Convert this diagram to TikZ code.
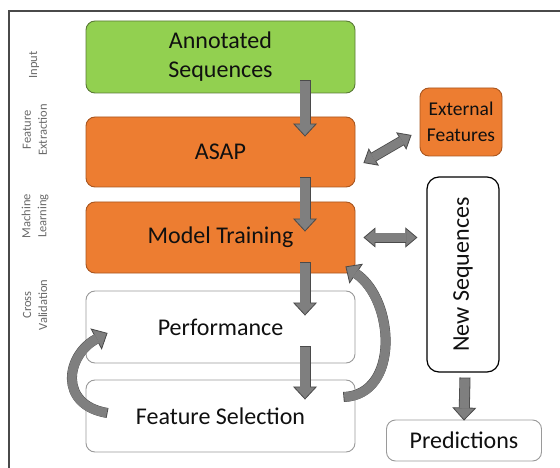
\documentclass[tikz,border=0pt]{standalone}
\usepackage{fontspec}
\setmainfont{Carlito}
\usetikzlibrary{arrows.meta,calc}
\definecolor{gfill}{HTML}{92D050}
\definecolor{gedge}{HTML}{5A7A36}
\definecolor{ofill}{HTML}{ED7D31}
\definecolor{oedge}{HTML}{A9561F}
\definecolor{afill}{HTML}{7F7F7F}
\definecolor{aedge}{HTML}{4A4A4A}
\definecolor{wedge}{HTML}{9A9A9A}
\definecolor{lab}{HTML}{6A6A6A}
\definecolor{txt}{HTML}{101010}
\begin{document}
\begin{tikzpicture}[x=1pt,y=-1pt,
  box/.style={rounded corners=9pt, line width=0.9pt, minimum width=269pt, text=txt, align=center,
     font=\fontsize{24}{29}\selectfont, inner sep=0pt},
  greenbox/.style={box, fill=gfill, draw=gedge},
  orangebox/.style={box, fill=ofill, draw=oedge},
  whitebox/.style={box, fill=white, draw=wedge},
  side/.style={rotate=90, align=center, text=lab, font=\fontsize{12.5}{16}\selectfont, inner sep=0pt},
  flow/.style={line width=11pt, draw=aedge,
     -{Triangle[width=24pt,length=13pt,fill=afill,line width=0.8pt]},
     postaction={draw=afill, line width=9.4pt, -, shorten >=12pt, shorten <=0.8pt}},
  dflow/.style={line width=10pt, draw=aedge,
     {Triangle[width=20pt,length=12pt,fill=afill,line width=0.8pt]}-{Triangle[width=20pt,length=12pt,fill=afill,line width=0.8pt]},
     postaction={draw=afill, line width=8.4pt, -, shorten >=11pt, shorten <=11pt}}
]
\useasboundingbox (0,0) rectangle (560,468);
\fill[white] (0,0) rectangle (560,468);
% frame
\draw[line width=1.2pt, color=aedge] (9,468) -- (9,11) -- (560,11);

% side labels
\node[side] (lin) at (34,65) {Input};
\node[side] (lfe) at (35,130) {Feature\\Extraction};
\node[side] (lml) at (35,216) {Machine\\Learning};
\node[side] (lcv) at (35,305) {Cross\\Validation};

% main boxes
\node[greenbox, minimum height=72pt] (ann) at (220.5,57) {Annotated\\Sequences};
\node[orangebox, minimum height=70pt] (asap) at (220.5,152) {ASAP};
\node[orangebox, minimum height=71pt] (mt) at (220.5,237.5) {Model Training};
\node[whitebox, minimum height=72pt] (perf) at (220.5,327) {Performance};
\node[whitebox, minimum height=72pt] (fs) at (220.5,416) {Feature Selection};

\node[orangebox, minimum width=82pt, minimum height=68pt, font=\fontsize{19.5}{26}\selectfont] (ext) at (461,122) {External\\Features};
\node[box, fill=white, draw=black, line width=1.2pt, rounded corners=12pt, minimum width=72pt, minimum height=195pt] (ns) at (463,274.5) {};
\node[rotate=90, text=txt, font=\fontsize{24}{29}\selectfont] (nst) at (ns.center) {New Sequences};
\node[whitebox, minimum width=155pt, minimum height=41pt] (pred) at (464,440.5) {Predictions};

% straight arrows
\draw[flow] ([xshift=84.5pt,yshift=13pt]ann.south) -- ([xshift=84.5pt,yshift=-20pt]asap.north);
\draw[flow] ([xshift=84.5pt,yshift=10pt]asap.south) -- ([xshift=84.5pt,yshift=-30pt]mt.north);
\draw[flow] ([xshift=84.5pt,yshift=11pt]mt.south) -- ([xshift=84.5pt,yshift=-25pt]perf.north);
\draw[flow] ([xshift=84.5pt,yshift=17pt]perf.south) -- ([xshift=84.5pt,yshift=-20pt]fs.north);
\draw[flow] ([xshift=2pt,yshift=-5pt]ns.south) -- ([yshift=-1pt]pred.north);

% double arrows
\draw[dflow] ([xshift=8pt,yshift=-11pt]asap.east) -- ([xshift=-8pt,yshift=-13pt]ext.west);
\draw[dflow] ([xshift=8pt]mt.east) -- ([xshift=-9pt]ns.west |- mt.east);

% curved feedback arrows
\draw[flow, line width=10pt, postaction={line width=8.4pt}] ([xshift=-12pt,yshift=19pt]fs.east) .. controls (400,395) and (395,300) .. ([xshift=-10pt,yshift=7pt]mt.south east);
\draw[flow, line width=10pt, postaction={line width=8.4pt}] ([xshift=22pt,yshift=3pt]fs.west) .. controls (58,405) and (66,355) .. ([xshift=22pt,yshift=-6pt]perf.west);
\end{tikzpicture}
\end{document}
